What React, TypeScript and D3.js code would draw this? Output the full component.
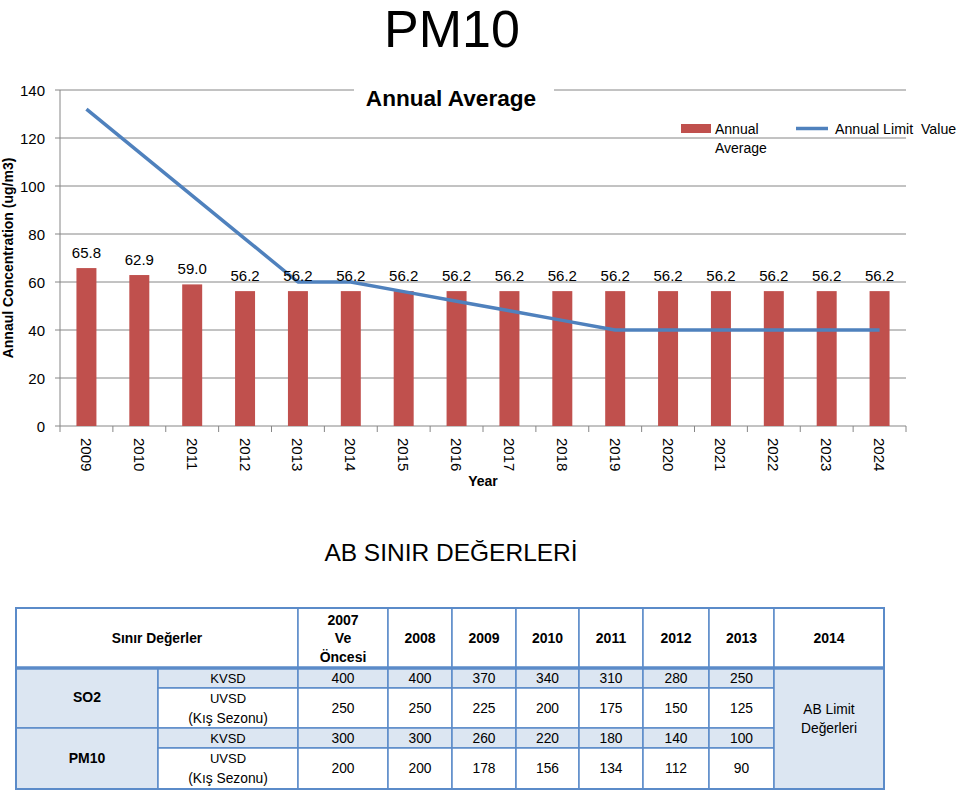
import React from "react";
import * as d3 from "d3";

const years = ["2009", "2010", "2011", "2012", "2013", "2014", "2015", "2016", "2017", "2018", "2019", "2020", "2021", "2022", "2023", "2024"];
const annualAverage = [65.8, 62.9, 59.0, 56.2, 56.2, 56.2, 56.2, 56.2, 56.2, 56.2, 56.2, 56.2, 56.2, 56.2, 56.2, 56.2];
const annualLimit = [132, 114, 96, 78, 60, 60, 56, 52, 48, 44, 40, 40, 40, 40, 40, 40];
const yTicks = [0, 20, 40, 60, 80, 100, 120, 140];

const tableHeaderLabel = "Sınır Değerler";
const tableYearHeaders = [["2007", "Ve", "Öncesi"], ["2008"], ["2009"], ["2010"], ["2011"], ["2012"], ["2013"]];
const lastYearHeader = "2014";
const pollutants = ["SO2", "PM10"];
const limitTypes = [["KVSD"], ["UVSD", "(Kış Sezonu)"]];
const so2KVSD = [400, 400, 370, 340, 310, 280, 250];
const so2UVSD = [250, 250, 225, 200, 175, 150, 125];
const pm10KVSD = [300, 300, 260, 220, 180, 140, 100];
const pm10UVSD = [200, 200, 178, 156, 134, 112, 90];
const abLimitText = ["AB Limit", "Değerleri"];

const FONT = "'Liberation Sans', Arial, sans-serif";
const RED = "#C0504D";
const BLUE = "#4F81BD";
const GRID = "#868686";
const LIGHT = "#DCE6F2";
const BORDER = "#5B8BC9";

export default function App() {
  const plotLeft = 60, plotRight = 906, plotTop = 90, plotBottom = 426;
  const x = d3.scaleBand<string>().domain(years).range([plotLeft, plotRight]).paddingInner(0.622).paddingOuter(0.311);
  const y = d3.scaleLinear().domain([0, 140]).range([plotBottom, plotTop]);
  const step = x.step();
  const cx = (d: string) => (x(d) as number) + x.bandwidth() / 2;
  const line = d3.line<number>().x((_, i) => cx(years[i])).y((v) => y(v));

  // table layout
  const colEdges = [16, 158, 298, 388, 452, 516, 579, 643, 709, 774, 884];
  const rowEdges = [608, 668, 688, 728, 748, 789];
  const rowsData = [so2KVSD, so2UVSD, pm10KVSD, pm10UVSD];

  const tableCells: React.ReactNode[] = [];
  // header
  tableCells.push(
    <rect key="h0" x={colEdges[0]} y={rowEdges[0]} width={colEdges[2] - colEdges[0]} height={rowEdges[1] - rowEdges[0]} fill="#fff" stroke={BORDER} strokeWidth={1.5} />
  );
  tableCells.push(
    <text key="h0t" x={(colEdges[0] + colEdges[2]) / 2} y={(rowEdges[0] + rowEdges[1]) / 2} textAnchor="middle" dominantBaseline="central" fontWeight="bold" fontSize={13.8}>{tableHeaderLabel}</text>
  );
  tableYearHeaders.forEach((lines, i) => {
    const x0 = colEdges[2 + i], x1 = colEdges[3 + i];
    const mid = (rowEdges[0] + rowEdges[1]) / 2;
    tableCells.push(<rect key={"hy" + i} x={x0} y={rowEdges[0]} width={x1 - x0} height={rowEdges[1] - rowEdges[0]} fill="#fff" stroke={BORDER} strokeWidth={1.5} />);
    lines.forEach((l, j) => {
      tableCells.push(
        <text key={"hyt" + i + "_" + j} x={(x0 + x1) / 2} y={mid + (j - (lines.length - 1) / 2) * 18.5} textAnchor="middle" dominantBaseline="central" fontWeight="bold" fontSize={14}>{l}</text>
      );
    });
  });
  tableCells.push(<rect key="hl" x={colEdges[9]} y={rowEdges[0]} width={colEdges[10] - colEdges[9]} height={rowEdges[1] - rowEdges[0]} fill="#fff" stroke={BORDER} strokeWidth={1.5} />);
  tableCells.push(
    <text key="hlt" x={(colEdges[9] + colEdges[10]) / 2} y={(rowEdges[0] + rowEdges[1]) / 2} textAnchor="middle" dominantBaseline="central" fontWeight="bold" fontSize={14}>{lastYearHeader}</text>
  );
  // pollutant cells
  pollutants.forEach((p, i) => {
    const y0 = rowEdges[1 + i * 2], y1 = rowEdges[3 + i * 2];
    tableCells.push(<rect key={"p" + i} x={colEdges[0]} y={y0} width={colEdges[1] - colEdges[0]} height={y1 - y0} fill={LIGHT} stroke={BORDER} strokeWidth={1.5} />);
    tableCells.push(
      <text key={"pt" + i} x={(colEdges[0] + colEdges[1]) / 2} y={(y0 + y1) / 2 - 1} textAnchor="middle" dominantBaseline="central" fontWeight="bold" fontSize={14}>{p}</text>
    );
  });
  // rows
  rowsData.forEach((vals, r) => {
    const y0 = rowEdges[1 + r], y1 = rowEdges[2 + r];
    const fill = r % 2 === 0 ? LIGHT : "#fff";
    const lt = limitTypes[r % 2];
    const mid = (y0 + y1) / 2;
    tableCells.push(<rect key={"lt" + r} x={colEdges[1]} y={y0} width={colEdges[2] - colEdges[1]} height={y1 - y0} fill={fill} stroke={BORDER} strokeWidth={1.5} />);
    lt.forEach((l, j) => {
      tableCells.push(
        <text key={"ltt" + r + "_" + j} x={(colEdges[1] + colEdges[2]) / 2} y={mid + (j - (lt.length - 1) / 2) * 20} textAnchor="middle" dominantBaseline="central" fontSize={j === 0 ? 13 : 13.8}>{l}</text>
      );
    });
    vals.forEach((v, c) => {
      const x0 = colEdges[2 + c], x1 = colEdges[3 + c];
      tableCells.push(<rect key={"v" + r + "_" + c} x={x0} y={y0} width={x1 - x0} height={y1 - y0} fill={fill} stroke={BORDER} strokeWidth={1.5} />);
      tableCells.push(
        <text key={"vt" + r + "_" + c} x={(x0 + x1) / 2} y={mid} textAnchor="middle" dominantBaseline="central" fontSize={13.8}>{v}</text>
      );
    });
  });
  // AB limit cell
  tableCells.push(<rect key="ab" x={colEdges[9]} y={rowEdges[1]} width={colEdges[10] - colEdges[9]} height={rowEdges[5] - rowEdges[1]} fill={LIGHT} stroke={BORDER} strokeWidth={1.5} />);
  abLimitText.forEach((l, j) => {
    tableCells.push(
      <text key={"abt" + j} x={(colEdges[9] + colEdges[10]) / 2} y={709 + j * 19} textAnchor="middle" dominantBaseline="central" fontSize={13.8}>{l}</text>
    );
  });

  return (
    <svg width={960} height={792} style={{ position: "absolute", left: 0, top: 0, background: "#fff" }} fontFamily={FONT}>
      <rect x={0} y={0} width={960} height={792} fill="#fff" />
      <text x={452} y={47} textAnchor="middle" fontSize={52}>PM10</text>

      {/* gridlines */}
      {yTicks.filter((t) => t > 0).map((t) => (
        <line key={"g" + t} x1={plotLeft - 5} x2={plotRight} y1={y(t)} y2={y(t)} stroke={GRID} strokeWidth={1} />
      ))}
      <line x1={plotLeft} x2={plotLeft} y1={plotTop} y2={plotBottom} stroke={GRID} strokeWidth={1} />
      <line x1={plotLeft - 5} x2={plotRight} y1={plotBottom} y2={plotBottom} stroke={GRID} strokeWidth={1} />
      {d3.range(years.length + 1).map((i) => (
        <line key={"xt" + i} x1={plotLeft + i * step} x2={plotLeft + i * step} y1={plotBottom} y2={plotBottom + 6} stroke={GRID} strokeWidth={1} />
      ))}
      {yTicks.map((t) => (
        <text key={"yl" + t} x={45} y={y(t)} textAnchor="end" dominantBaseline="central" fontSize={15}>{t}</text>
      ))}

      {/* bars */}
      {years.map((yr, i) => (
        <rect key={"b" + yr} x={x(yr)} y={y(annualAverage[i])} width={x.bandwidth()} height={plotBottom - y(annualAverage[i])} fill={RED} />
      ))}
      {/* line */}
      <path d={line(annualLimit) || ""} fill="none" stroke={BLUE} strokeWidth={3.5} strokeLinejoin="round" />
      {/* data labels */}
      {years.map((yr, i) => (
        <text key={"dl" + yr} x={cx(yr)} y={y(annualAverage[i]) - 10} textAnchor="middle" fontSize={15}>{annualAverage[i].toFixed(1)}</text>
      ))}
      {/* x tick labels */}
      {years.map((yr) => (
        <text key={"xl" + yr} transform={`translate(${cx(yr)},438) rotate(90)`} textAnchor="start" dominantBaseline="central" fontSize={15}>{yr}</text>
      ))}
      <text x={483} y={486} textAnchor="middle" fontWeight="bold" fontSize={14}>Year</text>
      <text transform={`translate(13,258) rotate(-90)`} textAnchor="middle" fontWeight="bold" fontSize={14}>Annaul Concentration (ug/m3)</text>

      {/* chart title with white box over the top gridline */}
      <rect x={354} y={85} width={200} height={26} fill="#fff" />
      <text x={451} y={106} textAnchor="middle" fontWeight="bold" fontSize={22.6}>Annual Average</text>

      {/* legend */}
      <rect x={681} y={124} width={30} height={9} fill={RED} />
      <text x={715} y={134} fontSize={14}>Annual</text>
      <text x={715} y={153} fontSize={14}>Average</text>
      <line x1={796} x2={828} y1={128.5} y2={128.5} stroke={BLUE} strokeWidth={3.5} />
      <text x={835} y={134} fontSize={14.2} style={{ whiteSpace: "pre" }}>{"Annual Limit  Value"}</text>

      <text x={451} y={561} textAnchor="middle" fontSize={24.5}>AB SINIR DEĞERLERİ</text>

      {/* table */}
      <g>{tableCells}</g>
      <line x1={colEdges[0]} x2={colEdges[10]} y1={rowEdges[1]} y2={rowEdges[1]} stroke={BORDER} strokeWidth={3.5} />
      <rect x={colEdges[0]} y={rowEdges[0]} width={colEdges[10] - colEdges[0]} height={rowEdges[5] - rowEdges[0]} fill="none" stroke={BORDER} strokeWidth={2} />
    </svg>
  );
}
